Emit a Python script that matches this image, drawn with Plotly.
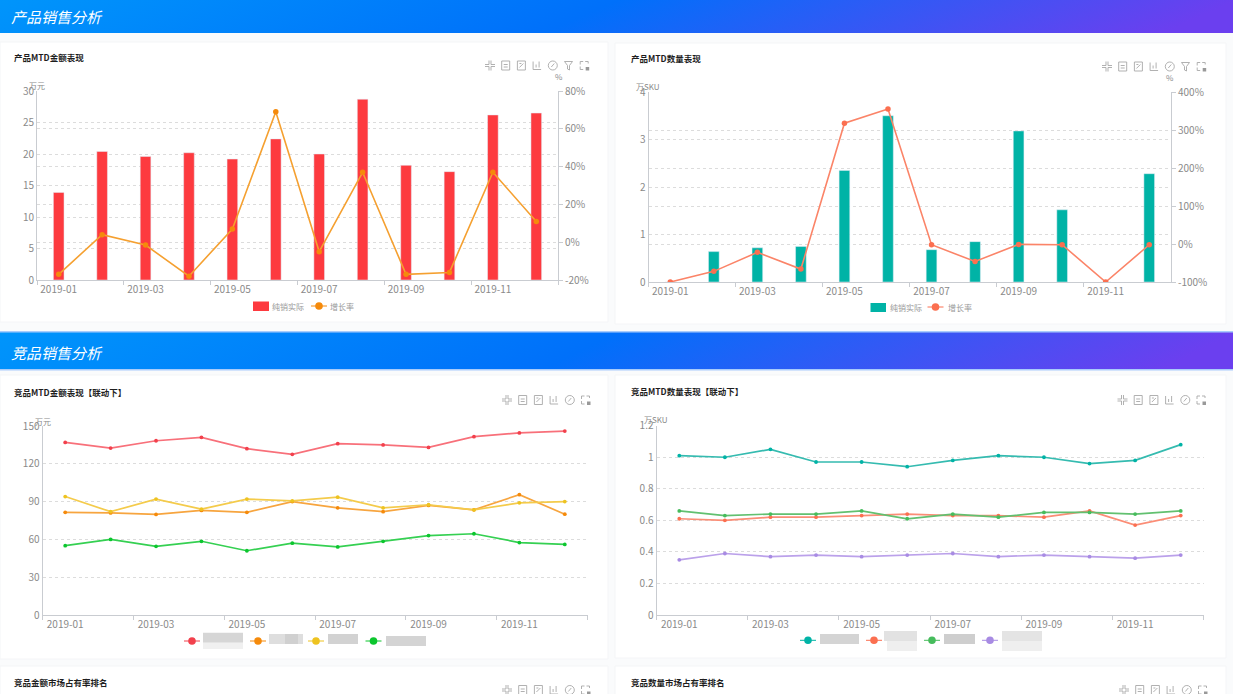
import base64
import plotly.graph_objects as go

W, H = 1233, 694
FONT = "Noto Sans CJK SC"

months = ["2019-01", "2019-02", "2019-03", "2019-04", "2019-05", "2019-06",
          "2019-07", "2019-08", "2019-09", "2019-10", "2019-11", "2019-12"]

amount_actual = [13.9, 20.4, 19.6, 20.2, 19.2, 22.4, 20.0, 28.7, 18.2, 17.2, 26.2, 26.5]
amount_growth = [-17, 4, -1.5, -18, 7, 69, -5, 37, -17, -16, 37, 11]

qty_actual = [0, 0.64, 0.72, 0.75, 2.35, 3.5, 0.68, 0.85, 3.18, 1.52, 0, 2.28]
qty_growth = [-100, -72, -22, -66, 318, 355, -2, -46, -1, -2, -100, -2]

comp_amount_a = [137, 132.5, 138.3, 141, 132, 127.5, 136, 135, 133, 141.5, 144.5, 146]
comp_amount_b = [81.5, 81, 79.8, 83, 81.5, 90, 85, 82, 87, 83.5, 95.5, 80]
comp_amount_c = [94, 82, 92, 84, 92, 90.5, 93.5, 85, 87.5, 83.5, 89, 90]
comp_amount_d = [55, 60, 54.5, 58.5, 51, 57, 54, 58.5, 63, 64.5, 57.5, 56]

comp_qty_a = [1.01, 1.0, 1.05, 0.97, 0.97, 0.94, 0.98, 1.01, 1.0, 0.96, 0.98, 1.08]
comp_qty_b = [0.61, 0.60, 0.62, 0.62, 0.63, 0.64, 0.63, 0.63, 0.62, 0.66, 0.57, 0.63]
comp_qty_c = [0.66, 0.63, 0.64, 0.64, 0.66, 0.61, 0.64, 0.62, 0.65, 0.65, 0.64, 0.66]
comp_qty_d = [0.35, 0.39, 0.37, 0.38, 0.37, 0.38, 0.39, 0.37, 0.38, 0.37, 0.36, 0.38]

left_ticks_1 = [0, 5, 10, 15, 20, 25, 30]
right_ticks_1 = [-20, 0, 20, 40, 60, 80]
left_ticks_2 = [0, 1, 2, 3, 4]
right_ticks_2 = [-100, 0, 100, 200, 300, 400]
ticks_3 = [0, 30, 60, 90, 120, 150]
ticks_4 = [0, 0.2, 0.4, 0.6, 0.8, 1, 1.2]


def px(x):
    return x / W


def py(y):
    return 1 - y / H


fig = go.Figure()
GRID = "#dcdcdc"
AXIS = "#c9ccd1"
TICKC = "#8a8a8a"
TICKF = dict(family=FONT, size=10, color=TICKC)


def xaxis_cfg(x0, x1, anchor):
    return dict(domain=[px(x0), px(x1)], type="category", range=[-0.5, 11.5], anchor=anchor,
                tickmode="linear", tick0=0, dtick=2, tickson="boundaries", ticks="outside",
                ticklen=4, tickcolor=AXIS, showgrid=False, zeroline=False, showline=True,
                linecolor=AXIS, linewidth=1, tickfont=TICKF, tickangle=0, fixedrange=True,
                automargin=False)


def yaxis_cfg(top, bottom, rng, vals, anchor, **kw):
    d = dict(domain=[py(bottom), py(top)], range=rng, tickmode="array", tickvals=vals,
             anchor=anchor, showgrid=True, gridcolor=GRID, griddash="3px,3px", gridwidth=1,
             zeroline=False, showline=True, linecolor=AXIS, linewidth=1, ticks="",
             tickfont=TICKF, fixedrange=True, ticklen=4, tickcolor=AXIS, automargin=False)
    d.update(kw)
    return d


def pct(vals):
    return [f"{v}%" for v in vals]


layout = dict(
    width=W, height=H, margin=dict(l=0, r=0, t=0, b=0, pad=0), autosize=False,
    paper_bgcolor="#fafbfc", plot_bgcolor="rgba(0,0,0,0)", showlegend=False,
    barmode="overlay", hovermode=False, font=dict(family=FONT, color=TICKC),
)

# Chart 1
layout["xaxis"] = xaxis_cfg(37, 558, "y")
layout["yaxis"] = yaxis_cfg(91, 280, [0, 30], left_ticks_1, "x")
layout["yaxis2"] = yaxis_cfg(91, 280, [-20, 80], right_ticks_1, "x", overlaying="y", side="right",
                             ticktext=pct(right_ticks_1), ticks="outside")
# Chart 2
layout["xaxis3"] = xaxis_cfg(648.5, 1171, "y3")
layout["yaxis3"] = yaxis_cfg(92, 282, [0, 4], left_ticks_2, "x3")
layout["yaxis4"] = yaxis_cfg(92, 282, [-100, 400], right_ticks_2, "x3", overlaying="y3", side="right",
                             ticktext=pct(right_ticks_2), ticks="outside")
# Chart 3
layout["xaxis5"] = xaxis_cfg(42.5, 587.5, "y5")
layout["yaxis5"] = yaxis_cfg(426, 615, [0, 150], ticks_3, "x5")
# Chart 4
layout["xaxis6"] = xaxis_cfg(656.5, 1203.5, "y6")
layout["yaxis6"] = yaxis_cfg(425.7, 615, [0, 1.2], ticks_4, "x6")

fig.add_bar(x=months, y=amount_actual, name="纯销实际", marker_color="#fd3a3f", width=0.245,
            xaxis="x", yaxis="y")
fig.add_scatter(x=months, y=amount_growth, name="增长率", mode="lines+markers",
                line=dict(color="#f5a030", width=1.6), marker=dict(color="#f58a0b", size=5.5),
                xaxis="x", yaxis="y2")

fig.add_bar(x=months, y=qty_actual, name="纯销实际", marker_color="#00b3a6", width=0.245,
            xaxis="x3", yaxis="y3")
fig.add_scatter(x=months, y=qty_growth, name="增长率", mode="lines+markers",
                line=dict(color="#fb8468", width=1.6), marker=dict(color="#fb6f50", size=5.5),
                xaxis="x3", yaxis="y4")


def comp_lines(series, colors, mcolors, xa, ya):
    for i, (s, c, m) in enumerate(zip(series, colors, mcolors)):
        fig.add_scatter(x=months, y=s, mode="lines+markers", name=f"竞品{i + 1}",
                        line=dict(color=c, width=1.7), marker=dict(color=m, size=3.8),
                        xaxis=xa, yaxis=ya)


AMOUNT_COLORS = ["#f8707a", "#f7a53f", "#f4cb4b", "#35d052"]
AMOUNT_MARKS = ["#f2404c", "#f58a0b", "#eec320", "#0cc62e"]
QTY_COLORS = ["#35bbb0", "#fb8d76", "#62c070", "#bba1ea"]
QTY_MARKS = ["#00b3a6", "#fb6f50", "#46bc5c", "#a88be3"]

comp_lines([comp_amount_a, comp_amount_b, comp_amount_c, comp_amount_d],
           AMOUNT_COLORS, AMOUNT_MARKS, "x5", "y5")
comp_lines([comp_qty_a, comp_qty_b, comp_qty_c, comp_qty_d],
           QTY_COLORS, QTY_MARKS, "x6", "y6")

# Background cards and legends
shapes = []


def rect(x0, y0, x1, y1, fill, line=None, layer="below"):
    shapes.append(dict(type="rect", xref="paper", yref="paper", x0=px(x0), x1=px(x1),
                       y0=py(y1), y1=py(y0), fillcolor=fill, layer=layer,
                       line=dict(color=line or fill, width=1 if line else 0)))


def legend_key(cx, cy, color):
    shapes.append(dict(type="line", xref="paper", yref="paper", x0=px(cx - 8), x1=px(cx + 8),
                       y0=py(cy), y1=py(cy), layer="above", line=dict(color=color, width=1)))
    shapes.append(dict(type="circle", xref="paper", yref="paper", x0=px(cx - 3.8), x1=px(cx + 3.8),
                       y0=py(cy + 3.8), y1=py(cy - 3.8), layer="above", fillcolor=color,
                       line=dict(color=color, width=0)))


for c in [(0, 42, 608, 322), (615, 43, 1226, 324), (0, 375, 608, 659), (615, 375, 1226, 658),
          (0, 666, 608, 700), (615, 666, 1226, 700)]:
    rect(*c, "#ffffff", "#f4f5f7")

rect(253, 301.5, 269, 311, "#fd3a3f")
rect(870.5, 303, 886, 312, "#00b3a6")
legend_key(319, 306, "#f58a0b")
legend_key(935.5, 307, "#fb6f50")
for cx, col in zip([192, 258, 316, 373.5], AMOUNT_MARKS):
    legend_key(cx, 641, col)
for cx, col in zip([808, 874, 932, 990], QTY_MARKS):
    legend_key(cx, 640.3, col)

# Masked legend names (mosaic blocks), each (x0, y0, x1, y1, color)
mask_blocks = [
    (203, 632.7, 243, 642.7, "#d6d6d6"), (203, 642.7, 243, 649, "#f0f0f0"),
    (269, 634, 303, 644, "#dedede"), (285, 634, 298, 644, "#d0d0d0"),
    (328, 634, 358, 644, "#d2d2d2"),
    (386, 636, 426, 646, "#d4d4d4"),
    (820, 634, 859, 644, "#d4d4d4"),
    (884, 631, 917, 641, "#e2e2e2"), (887, 641, 917, 651, "#efefef"),
    (944, 634, 975, 644, "#cecece"),
    (1002, 631, 1042, 641, "#e4e4e4"), (1002, 641, 1042, 651, "#efefef"),
]
for b in mask_blocks:
    rect(*b)

# Images: banners and toolbar icons
images = []


def svg_uri(s):
    return "data:image/svg+xml;base64," + base64.b64encode(s.encode()).decode()


banner = svg_uri(
    '<svg xmlns="http://www.w3.org/2000/svg" width="1233" height="36" preserveAspectRatio="none">'
    '<defs><linearGradient id="g" x1="0" y1="0" x2="1" y2="0.06">'
    '<stop offset="0" stop-color="#0095fb"/><stop offset="0.5" stop-color="#0070fa"/>'
    '<stop offset="1" stop-color="#6b3fef"/></linearGradient></defs>'
    '<rect width="1233" height="36" fill="url(#g)"/></svg>')

for y0, y1 in [(0, 33), (332, 369)]:
    images.append(dict(source=banner, xref="paper", yref="paper", x=0, y=py(y0), sizex=1,
                       sizey=(y1 - y0) / H, xanchor="left", yanchor="top", sizing="stretch",
                       layer="below"))
rect(0, 331, 1233, 332.5, "#a9ccfb")
rect(0, 369, 1233, 370.5, "#a9ccfb")

ICONS = {
    "split": "M5 1V5H1M7 1V5H11M5 11V7H1M7 11V7H11",
    "doc": "M2 1.5H10V10.5H2ZM4 5H8M4 7.5H8",
    "zoom": "M2 1.5H10V10.5H2ZM4 8L8 4M4 4H6",
    "chart": "M2 2V10H10M5 8V5M8 8V2",
    "gauge": "M1.5 6a4.5 4.5 0 1 0 9 0a4.5 4.5 0 1 0 -9 0M4.5 7.5L7.5 4",
    "funnel": "M2 2H10L7 6V10.5L5 9.5V6Z",
    "restore": "M2 5V2H5M10 4V2H7M2 7V10H5",
}
ICON_SET_7 = ["split", "doc", "zoom", "chart", "gauge", "funnel", "restore"]
ICON_SET_6 = ["split", "doc", "zoom", "chart", "gauge", "restore"]
ICON_ROWS = [(490, 65.5, ICON_SET_7), (1107, 66.5, ICON_SET_7), (507, 400, ICON_SET_6),
             (1122.5, 400, ICON_SET_6), (507, 690, ICON_SET_6), (1124, 690, ICON_SET_6)]


def icon_uri(name):
    extra = '<rect x="7.5" y="7.5" width="3.5" height="3.5" fill="#999999"/>' if name == "restore" else ""
    return svg_uri('<svg xmlns="http://www.w3.org/2000/svg" width="48" height="48" viewBox="0 0 12 12">'
                   f'<path d="{ICONS[name]}" fill="none" stroke="#a8a8a8" stroke-width="0.9"/>{extra}</svg>')


for x0, y0, names in ICON_ROWS:
    for i, n in enumerate(names):
        images.append(dict(source=icon_uri(n), xref="paper", yref="paper", x=px(x0 + i * 15.7), y=py(y0),
                           sizex=12 / W, sizey=12 / H, xanchor="center", yanchor="middle",
                           sizing="stretch", layer="above"))

# Text
annotations = []


def text(x, y, s, size=9, color="#8a8a8a", anchor="left", bold=False, italic=False):
    if bold:
        s = f"<b>{s}</b>"
    if italic:
        s = f"<i>{s}</i>"
    annotations.append(dict(xref="paper", yref="paper", x=px(x), y=py(y), text=s, showarrow=False,
                            xanchor=anchor, yanchor="middle", align="left", borderpad=0, borderwidth=0,
                            font=dict(family=FONT, size=size, color=color)))


text(11, 17, "产品销售分析", 15, "#ffffff", italic=True)
text(11, 352.5, "竞品销售分析", 15, "#ffffff", italic=True)
text(14, 57, "产品MTD金额表现", 8.5, "#1e1e1e", bold=True)
text(631, 58, "产品MTD数量表现", 8.5, "#1e1e1e", bold=True)
text(14, 391.5, "竞品MTD金额表现【联动下】", 8.5, "#1e1e1e", bold=True)
text(631, 391, "竞品MTD数量表现【联动下】", 8.5, "#1e1e1e", bold=True)
text(14, 682, "竞品金额市场占有率排名", 8.5, "#1e1e1e", bold=True)
text(631, 682, "竞品数量市场占有率排名", 8.5, "#1e1e1e", bold=True)
text(37, 85.5, "万元", 8, anchor="center")
text(559, 76.5, "%", 8, anchor="center")
text(648, 87, "万SKU", 8, anchor="center")
text(1170, 78, "%", 8, anchor="center")
text(43, 421, "万元", 8, anchor="center")
text(656, 420, "万SKU", 8, anchor="center")
text(272, 306, "纯销实际", 8, "#999999")
text(330, 306, "增长率", 8, "#999999")
text(890, 307, "纯销实际", 8, "#999999")
text(948, 307, "增长率", 8, "#999999")

layout["shapes"] = shapes
layout["images"] = images
layout["annotations"] = annotations
fig.update_layout(**layout)

fig.write_html("out.html", config=dict(displayModeBar=False, responsive=False),
               post_script="document.body.style.margin='0';document.body.style.overflow='hidden';")
